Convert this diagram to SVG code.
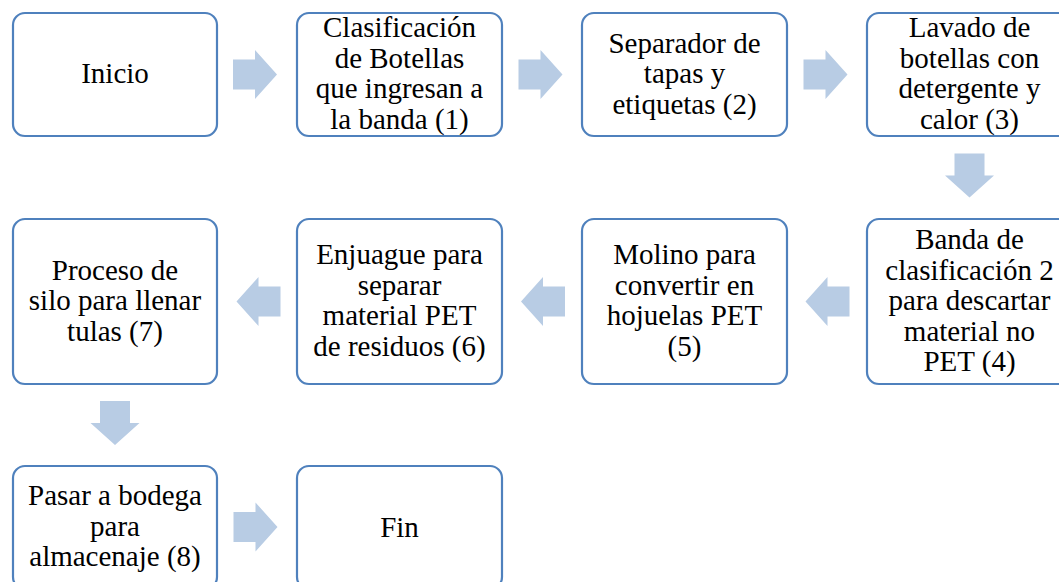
<svg xmlns="http://www.w3.org/2000/svg" width="1059" height="582" viewBox="0 0 1059 582">
<style>
.box{fill:#fff;stroke:#4F81BD;stroke-width:2.2}
.arr{fill:#B8CCE4}
.t{font-family:'Liberation Serif','Times New Roman',serif;font-size:29px;fill:#000;text-anchor:middle}
</style>
<rect width="1059" height="582" fill="#fff"/>
<defs>
<polygon id="ar" points="-22,-15 0,-15 0,-24.5 22,0 0,24.5 0,15 -22,15"/>
</defs>
<g id="connectors">
<use href="#ar" class="arr" x="255" y="74.5"/>
<use href="#ar" class="arr" x="540.5" y="74.5"/>
<use href="#ar" class="arr" x="825.5" y="74.5"/>
<use href="#ar" class="arr" transform="translate(969.5,175.5) rotate(90)"/>
<use href="#ar" class="arr" transform="translate(827.5,301.5) rotate(180)"/>
<use href="#ar" class="arr" transform="translate(543,301.5) rotate(180)"/>
<use href="#ar" class="arr" transform="translate(258.5,301.5) rotate(180)"/>
<use href="#ar" class="arr" transform="translate(115,423) rotate(90)"/>
<use href="#ar" class="arr" x="255.5" y="527"/>
</g>
<g id="n1"><rect class="box" x="13" y="13" width="204" height="123" rx="12"/>
<text class="t" x="115" y="83">Inicio</text></g>
<g id="n2"><rect class="box" x="297" y="13" width="205" height="123" rx="12"/>
<text class="t"><tspan x="399.5" y="37.25">Clasificación</tspan><tspan x="399.5" y="67.75">de Botellas</tspan><tspan x="399.5" y="98.25">que ingresan a</tspan><tspan x="399.5" y="128.75">la banda (1)</tspan></text></g>
<g id="n3"><rect class="box" x="582" y="13" width="205" height="123" rx="12"/>
<text class="t"><tspan x="684.5" y="52.5">Separador de</tspan><tspan x="684.5" y="83">tapas y</tspan><tspan x="684.5" y="113.5">etiquetas (2)</tspan></text></g>
<g id="n4"><rect class="box" x="867" y="13" width="205" height="123" rx="12"/>
<text class="t"><tspan x="969.5" y="37.25">Lavado de</tspan><tspan x="969.5" y="67.75">botellas con</tspan><tspan x="969.5" y="98.25">detergente y</tspan><tspan x="969.5" y="128.75">calor (3)</tspan></text></g>
<g id="n5"><rect class="box" x="867" y="219" width="205" height="165" rx="12"/>
<text class="t"><tspan x="969.5" y="249">Banda de</tspan><tspan x="969.5" y="279.5">clasificación 2</tspan><tspan x="969.5" y="310">para descartar</tspan><tspan x="969.5" y="340.5">material no</tspan><tspan x="969.5" y="371">PET (4)</tspan></text></g>
<g id="n6"><rect class="box" x="582" y="219" width="205" height="165" rx="12"/>
<text class="t"><tspan x="684.5" y="264.25">Molino para</tspan><tspan x="684.5" y="294.75">convertir en</tspan><tspan x="684.5" y="325.25">hojuelas PET</tspan><tspan x="684.5" y="355.75">(5)</tspan></text></g>
<g id="n7"><rect class="box" x="297" y="219" width="205" height="165" rx="12"/>
<text class="t"><tspan x="399.5" y="264.25">Enjuague para</tspan><tspan x="399.5" y="294.75">separar</tspan><tspan x="399.5" y="325.25">material PET</tspan><tspan x="399.5" y="355.75">de residuos (6)</tspan></text></g>
<g id="n8"><rect class="box" x="13" y="219" width="204" height="165" rx="12"/>
<text class="t"><tspan x="115" y="279.5">Proceso de</tspan><tspan x="115" y="310">silo para llenar</tspan><tspan x="115" y="340.5">tulas (7)</tspan></text></g>
<g id="n9"><rect class="box" x="13" y="466" width="204" height="123" rx="12"/>
<text class="t"><tspan x="115" y="505">Pasar a bodega</tspan><tspan x="115" y="535.5">para</tspan><tspan x="115" y="566">almacenaje (8)</tspan></text></g>
<g id="n10"><rect class="box" x="297" y="466" width="205" height="123" rx="12"/>
<text class="t" x="399.5" y="536.5">Fin</text></g>
</svg>
